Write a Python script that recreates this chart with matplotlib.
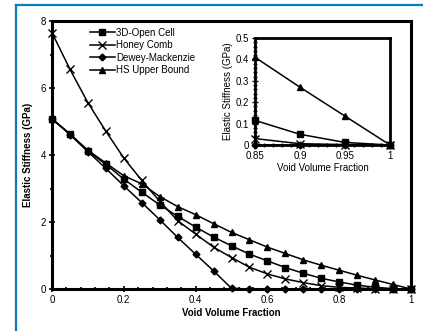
import matplotlib
matplotlib.use("Agg")
import matplotlib.pyplot as plt
from matplotlib.ticker import MultipleLocator, FuncFormatter
from matplotlib.lines import Line2D

plt.rcParams['font.family'] = ['Liberation Sans', 'DejaVu Sans']

# void volume fraction
vvf = [0.0, 0.05, 0.1, 0.15, 0.2, 0.25, 0.3, 0.35, 0.4, 0.45, 0.5,
       0.55, 0.6, 0.65, 0.7, 0.75, 0.8, 0.85, 0.9, 0.95, 1.0]

# elastic stiffness (GPa)
open_cell = [5.08, 4.62, 4.12, 3.72, 3.28, 2.89, 2.51, 2.17, 1.85, 1.55, 1.29,
             1.04, 0.84, 0.64, 0.47, 0.32, 0.21, 0.115, 0.05, 0.012, 0.0]
honey_comb = [7.65, 6.56, 5.56, 4.71, 3.91, 3.24, 2.62, 2.04, 1.64, 1.25, 0.94,
              0.65, 0.45, 0.30, 0.19, 0.10, 0.05, 0.03, 0.006, 0.002, 0.0]
dewey = [5.08, 4.61, 4.10, 3.60, 3.08, 2.58, 2.07, 1.54, 1.04, 0.54, 0.02,
         0.0, 0.0, 0.0, 0.0, 0.0, 0.0, 0.0, 0.0, 0.0, 0.0]
hs_upper = [5.08, 4.63, 4.14, 3.76, 3.38, 3.14, 2.76, 2.46, 2.22, 1.95, 1.69,
            1.47, 1.25, 1.06, 0.87, 0.71, 0.56, 0.41, 0.27, 0.135, 0.0]

labels = ["3D-Open Cell", "Honey Comb", "Dewey-Mackenzie", "HS Upper Bound"]
series = [open_cell, honey_comb, dewey, hs_upper]
markers = ['s', 'x', 'D', '^']
msizes = [4, 6, 3.5, 4.5]

fmt = FuncFormatter(lambda v, p: "%g" % round(v, 3))

fig = plt.figure(figsize=(4.23, 3.31), dpi=100)

# blue frame (left and top edges only are visible)
fig.add_artist(Line2D([16/423, 16/423], [0, 1 - 5/331], transform=fig.transFigure,
                      color='#0b7bc0', lw=1.6))
fig.add_artist(Line2D([16/423, 1], [1 - 5/331, 1 - 5/331], transform=fig.transFigure,
                      color='#0b7bc0', lw=1.6))

ax = fig.add_axes([52/423, 1 - 289/331, 359/423, 268/331])
for ys, lab, m, ms in zip(series, labels, markers, msizes):
    ax.plot(vvf, ys, color='black', lw=1.1, marker=m, ms=ms, mew=1.0,
            label=lab, clip_on=False, zorder=3)
ax.set_xlim(0, 1)
ax.set_ylim(0, 8)
ax.xaxis.set_major_locator(MultipleLocator(0.2))
ax.xaxis.set_minor_locator(MultipleLocator(0.04))
ax.yaxis.set_major_locator(MultipleLocator(2))
ax.yaxis.set_minor_locator(MultipleLocator(1))
ax.xaxis.set_major_formatter(fmt)
ax.yaxis.set_major_formatter(fmt)
ax.tick_params(which='both', direction='inout', width=1.2, labelsize=7, pad=2)
ax.tick_params(which='major', length=5)
ax.tick_params(which='minor', length=3.5)
for s in ax.spines.values():
    s.set_linewidth(2.2)
ax.set_xlabel("Void Volume Fraction", fontsize=7, fontweight='bold', labelpad=2)
ax.set_ylabel("Elastic Stiffness (GPa)", fontsize=7, fontweight='bold', labelpad=5)
ax.legend(loc='upper left', bbox_to_anchor=(0.105, 0.975), frameon=False, fontsize=7,
          handlelength=2.6, handletextpad=0.1, labelspacing=0.25, borderaxespad=0,
          borderpad=0)

# inset zoom on the high-porosity end
ins = fig.add_axes([255/423, 1 - 145/331, 135/423, 107/331])
for ys, m, ms in zip(series, markers, msizes):
    xs = [x for x in vvf if x >= 0.85]
    vs = [v for x, v in zip(vvf, ys) if x >= 0.85]
    ins.plot(xs, vs, color='black', lw=1.1, marker=m, ms=ms, mew=1.0,
             clip_on=False, zorder=3)
ins.set_xlim(0.85, 1.0)
ins.set_ylim(0, 0.5)
ins.xaxis.set_major_locator(MultipleLocator(0.05))
ins.xaxis.set_minor_locator(MultipleLocator(0.01))
ins.yaxis.set_major_locator(MultipleLocator(0.1))
ins.yaxis.set_minor_locator(MultipleLocator(0.02))
ins.xaxis.set_major_formatter(fmt)
ins.yaxis.set_major_formatter(fmt)
ins.tick_params(which='both', direction='inout', width=1.0, labelsize=7, pad=2)
ins.tick_params(which='major', length=4)
ins.tick_params(which='minor', length=3)
for s in ins.spines.values():
    s.set_linewidth(2.0)
ins.set_xlabel("Void Volume Fraction", fontsize=7, labelpad=2)
ins.set_ylabel("Elastic Stiffness (GPa)", fontsize=7, labelpad=2)

fig.savefig("out.png", dpi=100)
